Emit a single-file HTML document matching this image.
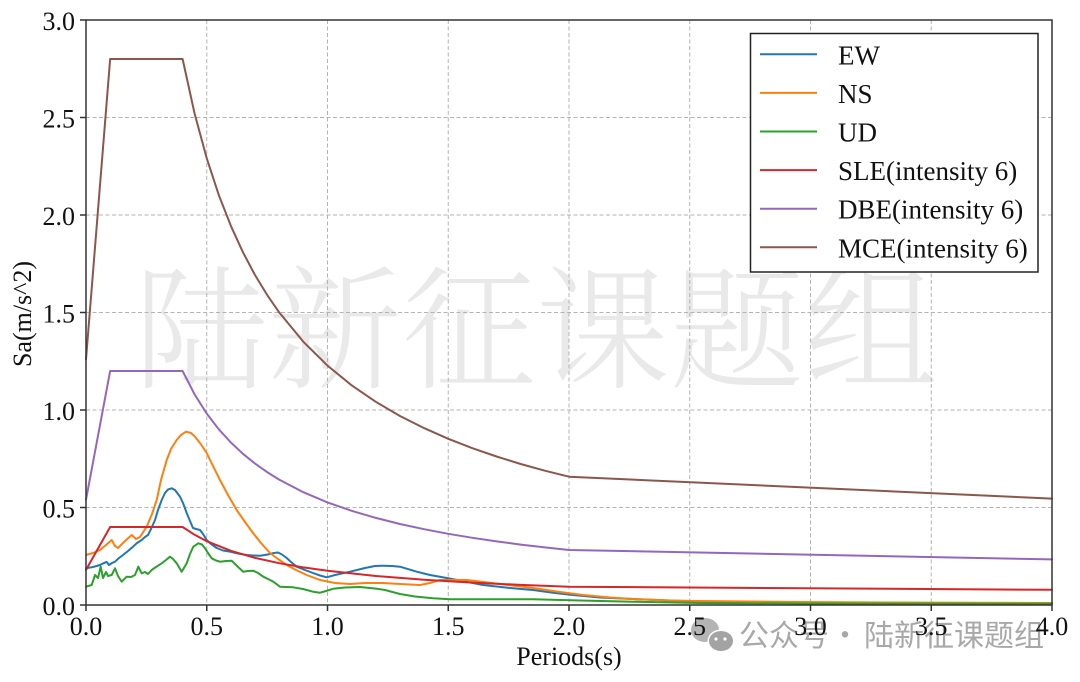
<!DOCTYPE html>
<html>
<head>
<meta charset="utf-8">
<style>
  html, body { margin: 0; padding: 0; background: #ffffff; }
  svg { display: block; }
  .tick { font-family: "Liberation Serif", "Times New Roman", serif; font-size: 26px; fill: #111; }
  .leg { font-family: "Liberation Serif", "Times New Roman", serif; font-size: 27px; fill: #111; }
</style>
</head>
<body>
<svg width="1080" height="682" viewBox="0 0 1080 682" xmlns="http://www.w3.org/2000/svg">
  <rect x="0" y="0" width="1080" height="682" fill="#ffffff"/>

  <!-- big watermark -->
  <text x="536" y="378" text-anchor="middle" font-family="'Noto Serif CJK SC', 'Noto Sans CJK SC', serif" font-size="134" font-weight="300" fill="#e9e9e9">陆新征课题组</text>

  <!-- grid -->
  <g stroke="#b3b3b3" stroke-width="1" stroke-dasharray="4,2.5" fill="none">
    <line x1="206.75" y1="20" x2="206.75" y2="605"/>
    <line x1="327.5" y1="20" x2="327.5" y2="605"/>
    <line x1="448.25" y1="20" x2="448.25" y2="605"/>
    <line x1="569" y1="20" x2="569" y2="605"/>
    <line x1="689.75" y1="20" x2="689.75" y2="605"/>
    <line x1="810.5" y1="20" x2="810.5" y2="605"/>
    <line x1="931.25" y1="20" x2="931.25" y2="605"/>
    <line x1="86" y1="507.5" x2="1052" y2="507.5"/>
    <line x1="86" y1="410" x2="1052" y2="410"/>
    <line x1="86" y1="312.5" x2="1052" y2="312.5"/>
    <line x1="86" y1="215" x2="1052" y2="215"/>
    <line x1="86" y1="117.5" x2="1052" y2="117.5"/>
  </g>

  <!-- curves -->
  <g fill="none" stroke-width="2" stroke-linejoin="round" stroke-linecap="round">
    <!-- EW -->
    <polyline stroke="#1f77b4" points="86,568.3 93,567 100,565 104,563 106.7,562 109,565 112,563 115,561.7 119,558 123,555 128,551 133,546.7 137,543 141.7,540 145,537 148,535 151,529 155,520 158,510 161.7,500 165,493 168,489.5 171.7,488.3 175,490 178,494 180,496.7 183,503 186.7,513 190,521 193,528 196,529 200,530 203,534 206.7,540 211,544 216.7,548 223,550.5 230,551.7 238,553.5 246.7,555 253,555.5 260,555.7 265,555 270,554 274,553 278,552.5 282,554.5 286.7,558 291,562 296.7,566.7 305,570 313,573 320,575.5 326.7,577.3 335,575 350,571.7 365,568 375,566 383,565.7 392,566 400,566.7 416.7,571.7 430,575 446.7,578 465,581.5 483,585 510,588 533,590 555,593 573,595 600,597.5 633,599 670,600.5 700,601.7 800,602.5 1052,603.5"/>
    <!-- NS -->
    <polyline stroke="#ff7f0e" points="86,555 93,553 100,550 106,545 111.7,540 115,546 118,548 124,542 131.7,535 136,539 140,537 146.7,526.7 152,514 156.7,500 161,480 166.7,460 171,449 176.7,440 181,435 186,431.7 191,433 195,436.7 200,443 206.7,453 213,466 220,480 228,495 236.7,510 245,522 253,533 261,543 270,553 278,559 286.7,565 296,570 306.7,575 320,580 335,583 350,584 365,583 383,583 400,584 420,585 430,583 440,580 455,580 467,580 500,584 533,588 560,592 583,595 610,597.5 633,599 670,600.5 700,601 800,602 900,602.5 1052,603"/>
    <!-- UD -->
    <polyline stroke="#2ca02c" points="86,586.7 91.7,585 95,575 98,578 100.7,566.7 103,578 106,572 108,576 111.7,575 115,568.3 118,576 121.7,581.7 126.7,576.7 131,577 135,575 138.3,566.7 141.7,573.3 145,572 148,574 151.7,570 156,567 161.7,563.3 166,560 170,556.7 173,559 176.7,563.3 181.7,571.7 186.7,563.3 190,554 193.3,546.7 198.3,543.3 202,544.5 205,548.3 208,553 211.7,558.3 216,560.5 220,561.7 226,561 231.7,560.7 237,566 243.3,571.7 248,571 253.3,570.7 258,573 263.3,576.7 268,579 273.3,581.7 280,586.7 286,587 293,587.3 303,589 313,591.7 320,592.7 326,591 333,588.8 345,587.5 360,587 375,588.5 385,590 400,594 415,596.5 433,598.3 450,599.3 500,599.3 533,599.3 580,600.5 633,601.7 700,603 800,603.5 1052,603.8"/>
    <!-- SLE -->
    <polyline stroke="#d62728" points="86,569.9 110.15,527 182.6,527 194.675,534.8 206.75,541.2 230.9,550.8 255.05,557.9 279.2,563.2 303.35,567.4 327.5,570.8 375.8,576 424.1,579.7 472.4,582.6 520.7,584.9 569,586.7 1052,589.8"/>
    <!-- DBE -->
    <polyline stroke="#9467bd" points="86,499.7 110.15,371 182.6,371 194.675,394.5 206.75,413.6 218.8,429.3 230.9,442.5 242.975,453.8 255.05,463.6 267.125,472.1 279.2,479.6 303.35,492.2 327.5,502.4 351.65,510.8 375.8,517.9 399.95,524 424.1,529.2 448.25,533.8 472.4,537.8 496.55,541.4 520.7,544.6 544.85,547.4 569,550 1052,559.4"/>
    <!-- MCE -->
    <polyline stroke="#8c564b" points="86,359.3 110.15,59 182.6,59 194.675,113.9 206.75,158.3 218.8,195.1 230.9,225.9 242.975,252.3 255.05,275.1 267.125,294.9 279.2,312.4 303.35,341.8 327.5,365.6 351.65,385.3 375.8,401.8 399.95,416 424.1,428.1 448.25,438.8 472.4,448.2 496.55,456.5 520.7,464 544.85,470.7 569,476.7 1052,498.6"/>
  </g>

  <!-- spines -->
  <rect x="86" y="20" width="966" height="585" fill="none" stroke="#333" stroke-width="1.5"/>

  <!-- ticks -->
  <g stroke="#333" stroke-width="1.5">
    <line x1="86" y1="605" x2="86" y2="611"/>
    <line x1="206.75" y1="605" x2="206.75" y2="611"/>
    <line x1="327.5" y1="605" x2="327.5" y2="611"/>
    <line x1="448.25" y1="605" x2="448.25" y2="611"/>
    <line x1="569" y1="605" x2="569" y2="611"/>
    <line x1="689.75" y1="605" x2="689.75" y2="611"/>
    <line x1="810.5" y1="605" x2="810.5" y2="611"/>
    <line x1="931.25" y1="605" x2="931.25" y2="611"/>
    <line x1="1052" y1="605" x2="1052" y2="611"/>
    <line x1="80" y1="605" x2="86" y2="605"/>
    <line x1="80" y1="507.5" x2="86" y2="507.5"/>
    <line x1="80" y1="410" x2="86" y2="410"/>
    <line x1="80" y1="312.5" x2="86" y2="312.5"/>
    <line x1="80" y1="215" x2="86" y2="215"/>
    <line x1="80" y1="117.5" x2="86" y2="117.5"/>
    <line x1="80" y1="20" x2="86" y2="20"/>
  </g>

  <!-- bottom-right watermark -->
  <g>
    <ellipse cx="705" cy="630" rx="14" ry="12" fill="#b4b4b4"/>
    <ellipse cx="721" cy="641" rx="13.5" ry="11.5" fill="#ffffff"/>
    <ellipse cx="721" cy="641" rx="12" ry="10" fill="#a3a3a3"/>
    <circle cx="716" cy="639" r="1.6" fill="#ffffff"/>
    <circle cx="725" cy="639" r="1.6" fill="#ffffff"/>
    <text x="739" y="646" font-family="'Noto Sans CJK SC', 'WenQuanYi Zen Hei', sans-serif" font-size="30" fill="#a8a8a8">公众号</text>
    <text x="845" y="646" text-anchor="middle" font-family="'Noto Sans CJK SC', 'WenQuanYi Zen Hei', sans-serif" font-size="30" fill="#a8a8a8">·</text>
    <text x="864" y="646" font-family="'Noto Sans CJK SC', 'WenQuanYi Zen Hei', sans-serif" font-size="30" fill="#a8a8a8">陆新征课题组</text>
  </g>

  <!-- x tick labels -->
  <g class="tick" text-anchor="middle">
    <text x="86" y="635">0.0</text>
    <text x="206.75" y="635">0.5</text>
    <text x="327.5" y="635">1.0</text>
    <text x="448.25" y="635">1.5</text>
    <text x="569" y="635">2.0</text>
    <text x="689.75" y="635">2.5</text>
    <text x="810.5" y="635">3.0</text>
    <text x="931.25" y="635">3.5</text>
    <text x="1052" y="635">4.0</text>
  </g>
  <!-- y tick labels -->
  <g class="tick" text-anchor="end">
    <text x="75" y="615">0.0</text>
    <text x="75" y="517.5">0.5</text>
    <text x="75" y="420">1.0</text>
    <text x="75" y="322.5">1.5</text>
    <text x="75" y="225">2.0</text>
    <text x="75" y="127.5">2.5</text>
    <text x="75" y="30">3.0</text>
  </g>

  <!-- axis labels -->
  <text class="tick" x="569" y="665" text-anchor="middle">Periods(s)</text>
  <text class="tick" transform="translate(31,314) rotate(-90)" text-anchor="middle">Sa(m/s^2)</text>

  <!-- legend -->
  <rect x="750.5" y="33.5" width="287.5" height="238.5" fill="#ffffff" stroke="#222" stroke-width="1.5"/>
  <g stroke-width="2">
    <line x1="760" y1="54.3" x2="817" y2="54.3" stroke="#1f77b4"/>
    <line x1="760" y1="92.9" x2="817" y2="92.9" stroke="#ff7f0e"/>
    <line x1="760" y1="131.5" x2="817" y2="131.5" stroke="#2ca02c"/>
    <line x1="760" y1="170.1" x2="817" y2="170.1" stroke="#d62728"/>
    <line x1="760" y1="208.7" x2="817" y2="208.7" stroke="#9467bd"/>
    <line x1="760" y1="247.3" x2="817" y2="247.3" stroke="#8c564b"/>
  </g>
  <g class="leg">
    <text x="838" y="64.3">EW</text>
    <text x="838" y="102.9">NS</text>
    <text x="838" y="141.5">UD</text>
    <text x="838" y="180.1">SLE(intensity 6)</text>
    <text x="838" y="218.7">DBE(intensity 6)</text>
    <text x="838" y="257.3">MCE(intensity 6)</text>
  </g>
</svg>
</body>
</html>
